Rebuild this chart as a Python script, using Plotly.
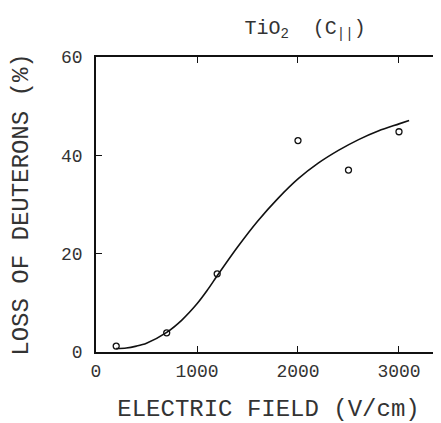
import plotly.graph_objects as go

# puntos medidos
campo = [200, 700, 1200, 2000, 2500, 3000]
perdida = [1.2, 3.9, 15.9, 43.0, 37.0, 44.8]

# curva ajustada
campo_curva = [200, 300, 400, 500, 700, 850, 1000, 1100, 1200, 1400, 1600, 1800, 2000,
               2200, 2400, 2600, 2800, 3000, 3100]
perdida_curva = [0.7, 0.8, 1.2, 1.8, 4.0, 6.5, 9.8, 12.5, 15.5, 21.3, 26.6, 31.2, 35.2,
                 38.4, 41.0, 43.2, 45.0, 46.4, 47.1]

xticks = [0, 1000, 2000, 3000]
yticks = [0, 20, 40, 60]

fuente = "Liberation Mono"
tinta = "#111111"
texto = "#333333"

fig = go.Figure()

fig.add_trace(go.Scatter(
    x=campo_curva, y=perdida_curva, mode="lines",
    line=dict(color=tinta, width=1.6, shape="spline", smoothing=0.8),
    showlegend=False,
))

fig.add_trace(go.Scatter(
    x=campo, y=perdida, mode="markers",
    marker=dict(symbol="circle-open", size=6, color=tinta, line=dict(width=1.3, color=tinta)),
    showlegend=False,
))

# la pagina deja 8px de margen en el body, por eso 433x415
fig.update_layout(
    width=433, height=415,
    margin=dict(l=88, r=0, t=49, b=71),
    paper_bgcolor="white", plot_bgcolor="white",
    font=dict(family=fuente, color=texto),
    title=dict(text="TiO<sub>2</sub>  (C<sub>||</sub>)", x=0.686, xanchor="center",
               y=0.955, yanchor="middle", font=dict(family=fuente, size=20, color=texto)),
)

fig.update_xaxes(
    range=[0, 3416], tickvals=xticks, ticktext=[str(v) for v in xticks],
    showline=True, linecolor=tinta, linewidth=1.5, mirror="ticks",
    ticks="inside", ticklen=6, tickwidth=1.3, tickcolor=tinta,
    showgrid=False, zeroline=False, automargin=False,
    tickfont=dict(family=fuente, size=18, color=texto), ticklabelstandoff=2,
    title=dict(text="ELECTRIC FIELD (V/cm)", font=dict(family=fuente, size=24, color=texto),
               standoff=30),
)

fig.update_yaxes(
    range=[0, 60], tickvals=yticks, ticktext=[str(v) for v in yticks],
    showline=True, linecolor=tinta, linewidth=1.5, mirror=False,
    ticks="inside", ticklen=6, tickwidth=1.3, tickcolor=tinta,
    showgrid=False, zeroline=False, automargin=False,
    tickfont=dict(family=fuente, size=18, color=texto), ticklabelstandoff=8,
    title=dict(text="LOSS OF DEUTERONS (%)", font=dict(family=fuente, size=24, color=texto),
               standoff=26),
)

fig.write_html("out.html")
